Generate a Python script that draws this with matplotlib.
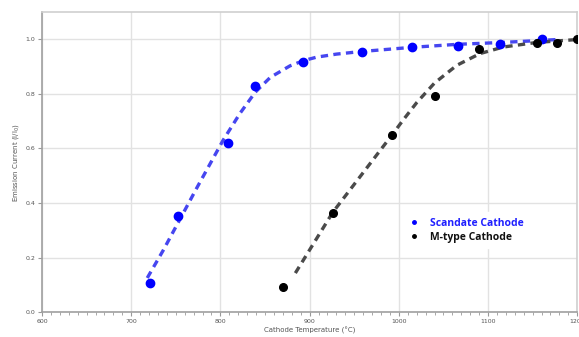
import matplotlib.pyplot as plt
from matplotlib.lines import Line2D
from matplotlib.ticker import MultipleLocator

# measured points
sc_temp = [721, 752, 808, 839, 893, 959, 1015, 1066, 1113, 1161]
sc_curr = [0.108, 0.352, 0.619, 0.828, 0.916, 0.954, 0.971, 0.974, 0.982, 1.0]
mt_temp = [870, 926, 992, 1041, 1090, 1155, 1177, 1200]
mt_curr = [0.092, 0.364, 0.648, 0.791, 0.963, 0.985, 0.986, 1.0]

# dashed trend lines
sc_fit_t = [718, 736, 774, 803, 822, 839, 856, 878, 893, 908, 930, 956, 1015, 1066, 1117, 1181]
sc_fit_c = [0.125, 0.227, 0.458, 0.630, 0.729, 0.806, 0.861, 0.903, 0.922, 0.935, 0.946,
            0.955, 0.971, 0.982, 0.989, 1.0]
mt_fit_t = [884, 926, 992, 1005, 1020, 1040, 1065, 1091, 1117, 1155, 1202]
mt_fit_c = [0.143, 0.366, 0.648, 0.705, 0.768, 0.840, 0.905, 0.948, 0.972, 0.989, 1.0]

fig = plt.figure(figsize=(5.79, 3.37), dpi=100)
ax = fig.add_axes([0.0725, 0.074, 0.9245, 0.890])

ax.plot(sc_fit_t, sc_fit_c, linestyle=(0, (2.2, 1.6)), color="#4646f0", lw=2.4, zorder=3)
ax.plot(mt_fit_t, mt_fit_c, linestyle=(0, (2.2, 1.6)), color="#4a4a4a", lw=2.4, zorder=3)
ax.plot(sc_temp, sc_curr, "o", color="#0000ff", ms=6, zorder=4)
ax.plot(mt_temp, mt_curr, "o", color="black", ms=5.5, zorder=4)

ax.set_xlim(600, 1200)
ax.set_ylim(0, 1.1)
ax.xaxis.set_major_locator(MultipleLocator(100))
ax.xaxis.set_minor_locator(MultipleLocator(10))
ax.yaxis.set_major_locator(MultipleLocator(0.2))
ax.yaxis.set_major_formatter(plt.FuncFormatter(lambda v, p: f"{v:.1f}"))
ax.grid(True, color="#e2e2e2", lw=1.0)
ax.set_axisbelow(True)
for s in ax.spines.values():
    s.set_color("#cfcfcf")
    s.set_linewidth(1.2)
ax.spines["left"].set_color("#a0a0a0")
ax.spines["bottom"].set_color("#a0a0a0")
ax.tick_params(axis="both", which="major", labelsize=4.5, labelcolor="#555555",
               color="#999999", length=3, width=0.8, pad=2)
ax.tick_params(axis="x", which="minor", color="#999999", length=2, width=0.6)

ax.set_xlabel("Cathode Temperature (°C)", fontsize=5, color="#555555", labelpad=2)
ax.set_ylabel("Emission Current (I/I$_0$)", fontsize=5, color="#555555", labelpad=3)

handles = [
    Line2D([], [], marker="o", ls="none", color="#0000ff", ms=2.5),
    Line2D([], [], marker="o", ls="none", color="black", ms=2.5),
]
leg = ax.legend(handles, ["Scandate Cathode", "M-type Cathode"],
                loc="upper left", bbox_to_anchor=(0.664, 0.35),
                frameon=True, fancybox=False, framealpha=1, edgecolor="white",
                handlelength=1.2, handletextpad=0.9, labelspacing=0.3,
                borderpad=0.5, prop={"family": "Open Sans", "weight": "bold", "size": 7.5})
leg.get_texts()[0].set_color("#1f1fff")
leg.get_texts()[1].set_color("#111111")

fig.savefig("out.png", dpi=100)
